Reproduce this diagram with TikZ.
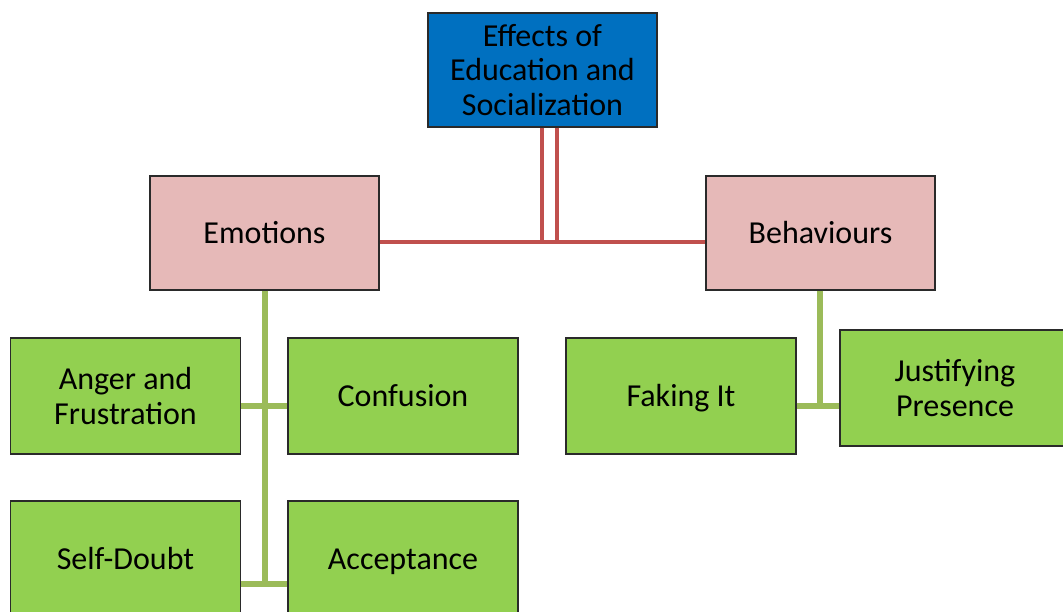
\documentclass[tikz,border=0pt]{standalone}
\usepackage{fontspec}
\setmainfont{Carlito}
\definecolor{topblue}{HTML}{0070C0}
\definecolor{pinkfill}{HTML}{E6B9B8}
\definecolor{greenfill}{HTML}{92D050}
\definecolor{redline}{HTML}{C0504D}
\definecolor{greenline}{HTML}{9BBB59}
\definecolor{boxborder}{HTML}{2A2A2A}
\begin{document}
\begin{tikzpicture}[x=1pt,y=-1pt,
  box/.style={draw=boxborder, line width=1.2pt, rectangle, align=center, inner sep=0pt,
    font=\fontsize{32}{34.5}\selectfont, text=black},
  oneline/.style={text height=25pt, text depth=4pt},
  topbox/.style={box, fill=topblue, minimum width=229pt, minimum height=114pt},
  midbox/.style={box, fill=pinkfill, minimum width=229pt, minimum height=114pt},
  leafbox/.style={box, fill=greenfill, minimum width=230pt, minimum height=116pt},
  redconn/.style={draw=redline, line width=4pt},
  greenconn/.style={draw=greenline, line width=6pt}]
\useasboundingbox (0,0) rectangle (1063,612);
\coordinate (rl) at (542,0);
\coordinate (rr) at (557,0);
\coordinate (hr) at (0,242);
\coordinate (hg1) at (0,406);
\coordinate (hg2) at (0,584);
\coordinate (vge) at (265,0);
\coordinate (vgb) at (820,0);

\node[topbox] (top) at (542.5,70) {Effects of\\Education and\\Socialization};
\node[midbox, oneline] (emo) at (264.5,233) {Emotions};
\node[midbox, oneline] (beh) at (820.5,233) {Behaviours};
\node[leafbox] (anger) at (125.5,396) {Anger and\\Frustration};
\node[leafbox, oneline] (conf) at (403,396) {Confusion};
\node[leafbox, oneline] (self) at (125.5,559) {Self-Doubt};
\node[leafbox, oneline] (acc) at (403,559) {Acceptance};
\node[leafbox, oneline] (fake) at (681,396) {Faking It};
\node[leafbox] (just) at (955,388) {Justifying\\Presence};

% red connectors
\draw[redconn] (top.south -| rl) -- (hr -| rl);
\draw[redconn] (top.south -| rr) -- (hr -| rr);
\draw[redconn] (emo.east |- hr) -- (beh.west |- hr);

% green connectors, Emotions
\draw[greenconn] (emo.south -| vge) -- (hg2 -| vge);
\draw[greenconn] (anger.east |- hg1) -- (conf.west |- hg1);
\draw[greenconn] (self.east |- hg2) -- (acc.west |- hg2);

% green connectors, Behaviours
\draw[greenconn] (beh.south -| vgb) -- (hg1 -| vgb);
\draw[greenconn] (fake.east |- hg1) -- (just.west |- hg1);
\end{tikzpicture}
\end{document}
